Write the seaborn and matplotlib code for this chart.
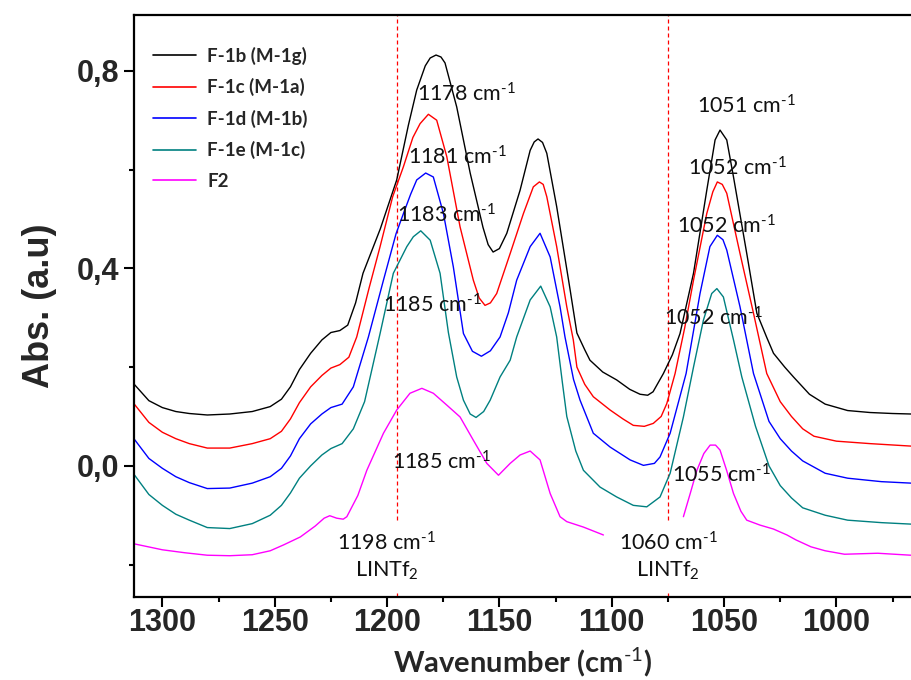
import matplotlib
matplotlib.use("Agg")
import matplotlib.pyplot as plt
import seaborn as sns
import pandas as pd
from matplotlib import font_manager
from matplotlib.ticker import MultipleLocator, FuncFormatter

# ---------------- data ----------------
series_names = ["F-1b (M-1g)", "F-1c (M-1a)", "F-1d (M-1b)", "F-1e (M-1c)", "F2"]
series_colors = ["#000000", "#ff0000", "#0000ff", "#008080", "#ff00ff"]

wn_f1b = [1312.5, 1306, 1300, 1294, 1288, 1280, 1270, 1260, 1252, 1247, 1243, 1239, 1234, 1229, 1225, 1221,
          1217.5, 1214, 1210.7, 1203, 1195.7, 1190.5, 1186.8, 1183, 1180.8, 1178.2, 1176, 1174.2, 1169, 1163,
          1157.3, 1155, 1152.8, 1150, 1146.7, 1140.8, 1136.3, 1134.5, 1132.8, 1130.8, 1128.9, 1124.5, 1118.5,
          1115.5, 1112, 1109.7, 1104, 1097.8, 1092, 1087.4, 1084, 1081.6, 1077, 1073, 1069.6, 1063.6, 1057.7,
          1054, 1051.8, 1048.8, 1045.8, 1039.9, 1035.4, 1031, 1028, 1023, 1019.1, 1012, 1005, 995, 985, 975, 966.8]
abs_f1b = [0.165, 0.132, 0.118, 0.110, 0.106, 0.103, 0.105, 0.110, 0.120, 0.135, 0.160, 0.195, 0.228, 0.255,
           0.270, 0.274, 0.285, 0.33, 0.39, 0.48, 0.579, 0.69, 0.761, 0.81, 0.826, 0.832, 0.828, 0.816, 0.727,
           0.593, 0.483, 0.448, 0.433, 0.44, 0.471, 0.558, 0.639, 0.656, 0.662, 0.655, 0.633, 0.525, 0.356,
           0.269, 0.235, 0.214, 0.19, 0.174, 0.155, 0.145, 0.143, 0.150, 0.187, 0.225, 0.268, 0.39, 0.558,
           0.66, 0.68, 0.66, 0.585, 0.43, 0.309, 0.26, 0.228, 0.2, 0.18, 0.145, 0.125, 0.112, 0.108, 0.106, 0.105]

wn_f1c = [1312.5, 1306, 1300, 1294, 1288, 1280, 1270, 1260, 1252, 1247, 1243, 1239, 1234, 1229, 1225, 1221,
          1217, 1213.5, 1208, 1203.1, 1197.5, 1192.7, 1188.5, 1185.3, 1181.6, 1177.9, 1173.4, 1167.5, 1161.6,
          1159, 1156.4, 1154, 1151.2, 1145.2, 1139.3, 1134.9, 1132.2, 1130.5, 1128.9, 1124.5, 1120, 1117.1,
          1115.5, 1112, 1108.2, 1100.7, 1095, 1090.4, 1085.5, 1081.5, 1078, 1075.5, 1071.8, 1067.5, 1063.6,
          1057.7, 1055, 1053, 1050.8, 1048.8, 1042.9, 1036.9, 1031, 1025, 1020, 1015, 1010, 1000, 985, 966.8]
abs_f1c = [0.125, 0.088, 0.068, 0.055, 0.045, 0.036, 0.036, 0.045, 0.055, 0.07, 0.095, 0.128, 0.16, 0.183,
           0.198, 0.205, 0.22, 0.261, 0.36, 0.444, 0.545, 0.606, 0.665, 0.693, 0.712, 0.700, 0.626, 0.484,
           0.376, 0.34, 0.325, 0.33, 0.349, 0.430, 0.511, 0.565, 0.575, 0.57, 0.545, 0.444, 0.322, 0.255,
           0.2, 0.165, 0.14, 0.113, 0.095, 0.082, 0.08, 0.086, 0.1, 0.126, 0.187, 0.28, 0.376, 0.511, 0.555,
           0.575, 0.57, 0.552, 0.43, 0.309, 0.187, 0.13, 0.1, 0.075, 0.06, 0.05, 0.045, 0.04]

wn_f1d = [1312.5, 1306, 1300, 1294, 1288, 1280, 1270, 1260, 1252, 1247, 1243, 1239, 1234, 1229, 1225, 1220,
          1215, 1208.3, 1201.6, 1196, 1192.7, 1189.5, 1186.8, 1182.8, 1179.4, 1174.9, 1170.5, 1166, 1162, 1158,
          1154, 1149.7, 1146, 1142.3, 1136.3, 1131.9, 1127.4, 1123, 1120.8, 1117, 1114.1, 1108.2, 1100.7,
          1091.8, 1085.9, 1081, 1078.5, 1074, 1066.9, 1060.7, 1056.3, 1053, 1050.5, 1048.8, 1042.9, 1036.9,
          1030, 1025, 1020, 1015, 1005, 995, 980, 966.8]
abs_f1d = [0.054, 0.015, -0.005, -0.022, -0.034, -0.046, -0.045, -0.035, -0.022, -0.005, 0.02, 0.055, 0.085,
           0.105, 0.118, 0.125, 0.16, 0.261, 0.376, 0.47, 0.511, 0.55, 0.579, 0.593, 0.585, 0.511, 0.403,
           0.268, 0.232, 0.222, 0.233, 0.261, 0.31, 0.376, 0.444, 0.471, 0.423, 0.322, 0.261, 0.175, 0.133,
           0.066, 0.038, 0.012, 0.001, 0.005, 0.018, 0.066, 0.187, 0.349, 0.444, 0.467, 0.458, 0.437, 0.322,
           0.187, 0.09, 0.055, 0.03, 0.01, -0.015, -0.025, -0.032, -0.035]

wn_f1e = [1312.5, 1306, 1300, 1294, 1288, 1280, 1270, 1260, 1252, 1247, 1243, 1239, 1234, 1229, 1225, 1220,
          1215, 1210, 1203.1, 1197.2, 1191.2, 1188.3, 1185, 1180.8, 1176.4, 1172.7, 1169, 1166, 1163, 1160.4,
          1157, 1154.1, 1149.7, 1145.2, 1142.3, 1136.3, 1131.6, 1127.4, 1124.5, 1122, 1120, 1116, 1112.6,
          1105.2, 1097.8, 1090.4, 1084.4, 1078.5, 1074, 1068.1, 1063.6, 1059.2, 1055.5, 1053.2, 1050.3,
          1045.8, 1042.1, 1036, 1030, 1025, 1020, 1015, 1005, 995, 980, 966.8]
abs_f1e = [-0.018, -0.058, -0.08, -0.098, -0.11, -0.125, -0.127, -0.117, -0.1, -0.08, -0.055, -0.025, 0.0,
           0.022, 0.035, 0.045, 0.075, 0.13, 0.268, 0.39, 0.444, 0.464, 0.476, 0.457, 0.39, 0.27, 0.18, 0.133,
           0.105, 0.098, 0.11, 0.133, 0.18, 0.214, 0.261, 0.336, 0.364, 0.322, 0.261, 0.17, 0.1, 0.03, -0.009,
           -0.043, -0.063, -0.08, -0.083, -0.063, -0.015, 0.099, 0.2, 0.295, 0.349, 0.359, 0.342, 0.255, 0.18,
           0.08, 0.0, -0.04, -0.065, -0.085, -0.1, -0.11, -0.115, -0.118]

# F2 is recorded in two visible pieces
wn_f2_a = [1312.5, 1300, 1290, 1280, 1270, 1260, 1252, 1246, 1238.6, 1232, 1228, 1225.5, 1222.4, 1219.5,
           1217.9, 1213, 1209, 1201.6, 1195.7, 1189.8, 1184.5, 1179.4, 1173.4, 1167.5, 1161.6, 1155.6, 1150.4,
           1145.2, 1140.8, 1136.3, 1131.9, 1127.4, 1123, 1120, 1112.6, 1103.7]
abs_f2_a = [-0.158, -0.17, -0.176, -0.181, -0.182, -0.18, -0.172, -0.16, -0.144, -0.122, -0.106, -0.101,
            -0.106, -0.108, -0.103, -0.06, -0.009, 0.066, 0.113, 0.147, 0.157, 0.147, 0.123, 0.099, 0.052,
            0.005, -0.019, 0.005, 0.022, 0.030, 0.012, -0.056, -0.103, -0.113, -0.124, -0.140]
wn_f2_b = [1068.1, 1065, 1062.1, 1059, 1056.2, 1053.8, 1051.8, 1048.8, 1045.8, 1042.5, 1039.9, 1034, 1028,
           1022, 1018, 1011.3, 1005, 996.4, 981.6, 966.8]
abs_f2_b = [-0.103, -0.055, -0.009, 0.025, 0.042, 0.042, 0.032, -0.01, -0.056, -0.092, -0.11, -0.12, -0.128,
            -0.14, -0.15, -0.164, -0.172, -0.179, -0.177, -0.181]

ref_lines = [1195.5, 1075.0]

peak_labels = ["1178", "1181", "1183", "1185", "1051", "1052", "1052", "1052", "1185", "1055"]
peak_lx = [1186.8, 1190.8, 1195.7, 1201.6, 1062.1, 1065.9, 1070.8, 1076.6, 1197.9, 1073.3]
peak_ly = [0.753, 0.625, 0.508, 0.325, 0.729, 0.603, 0.485, 0.299, 0.0075, -0.019]

lit_labels = ["1198", "1060"]
lit_x = [1200.1, 1074.8]
lit_y = [-0.183, -0.183]

# ---------------- table ----------------
pieces = [
    (series_names[0], "b", wn_f1b, abs_f1b),
    (series_names[1], "c", wn_f1c, abs_f1c),
    (series_names[2], "d", wn_f1d, abs_f1d),
    (series_names[3], "e", wn_f1e, abs_f1e),
    (series_names[4], "f2a", wn_f2_a, abs_f2_a),
    (series_names[4], "f2b", wn_f2_b, abs_f2_b),
]
rows = []
for name, seg, xs, ys in pieces:
    assert len(xs) == len(ys), (name, seg, len(xs), len(ys))
    for xv, yv in zip(xs, ys):
        rows.append({"sample": name, "seg": seg, "wn": xv, "abs": yv})
df = pd.DataFrame(rows)

# ---------------- style ----------------
sns.set_style("ticks")
avail = {f.name for f in font_manager.fontManager.ttflist}
tick_family = "Liberation Sans Narrow" if "Liberation Sans Narrow" in avail else "Liberation Sans"
plt.rcParams["font.family"] = ["Lato", "DejaVu Sans"]
plt.rcParams["mathtext.fontset"] = "custom"
plt.rcParams["mathtext.rm"] = "Lato"
plt.rcParams["mathtext.it"] = "Lato:italic"
plt.rcParams["mathtext.bf"] = "Lato:bold"

fig = plt.figure(figsize=(9.11, 6.8), dpi=100)
ax = fig.add_axes([0.1474, 0.1225, 0.8526, 0.8554])

sns.lineplot(data=df, x="wn", y="abs", hue="sample", hue_order=series_names,
             palette=series_colors, units="seg", estimator=None, sort=False,
             linewidth=1.0, ax=ax, legend=True)

for xv in ref_lines:
    ax.axvline(xv, color="#ff0000", linestyle=(0, (3.2, 2.4)), linewidth=0.9, zorder=1)

ax.set_xlim(1312.5, 966.8)
ax.set_ylim(-0.265, 0.913)

ax.xaxis.set_major_locator(MultipleLocator(50))
ax.xaxis.set_minor_locator(MultipleLocator(25))
ax.yaxis.set_major_locator(MultipleLocator(0.4))
ax.yaxis.set_minor_locator(MultipleLocator(0.2))
ax.yaxis.set_major_formatter(FuncFormatter(lambda v, p: f"{v:.1f}".replace(".", ",").replace("-0,0", "0,0")))
ax.xaxis.set_major_formatter(FuncFormatter(lambda v, p: f"{int(round(v))}"))

for s in ["left", "bottom", "top"]:
    ax.spines[s].set_linewidth(1.6)
    ax.spines[s].set_color("black")
ax.spines["right"].set_visible(False)

ax.tick_params(axis="both", which="major", length=7, width=1.5, direction="out", color="black")
ax.tick_params(axis="both", which="minor", length=3.8, width=1.5, direction="out", color="black")
ax.tick_params(axis="x", which="both", pad=1)
ax.tick_params(axis="y", which="both", pad=4)

plt.setp(ax.get_xticklabels(), fontfamily=tick_family, fontweight="bold", fontsize=22)
plt.setp(ax.get_yticklabels(), fontfamily=tick_family, fontweight="bold", fontsize=22)

ax.set_xlabel("Wavenumber (cm$^{\\text{-1}}$)", fontsize=21, fontweight="bold",
              fontfamily=["Lato", "DejaVu Sans"], labelpad=6)
ax.set_ylabel("Abs. (a.u)", fontsize=26, fontweight="bold",
              fontfamily=["Liberation Sans", "DejaVu Sans"], labelpad=14)

# peak annotations
for lab, xv, yv in zip(peak_labels, peak_lx, peak_ly):
    ax.text(xv, yv, f"{lab} cm$^{{\\text{{-1}}}}$", fontsize=15.5, ha="left", va="center",
            color="#111111", zorder=6)

# literature (LiNTf2) annotations with white background
for lab, xv, yv in zip(lit_labels, lit_x, lit_y):
    ax.text(xv, yv, f"{lab} cm$^{{\\text{{-1}}}}$\nLINTf$_{{2}}$", fontsize=15.5, ha="center", va="center",
            multialignment="center", linespacing=1.3, color="#111111", zorder=6,
            bbox=dict(facecolor="white", edgecolor="none", boxstyle="square,pad=0.45"))

handles, labels = ax.get_legend_handles_labels()
leg = ax.legend(handles, labels, loc="upper left", bbox_to_anchor=(0.024, 0.946), frameon=False,
                borderpad=0, borderaxespad=0, handlelength=2.3, handletextpad=0.6, labelspacing=0.72,
                prop={"family": ["Lato", "DejaVu Sans"], "weight": "bold", "size": 13.5})
for h in leg.get_lines():
    h.set_linewidth(1.2)

fig.savefig("out.png", dpi=100)
